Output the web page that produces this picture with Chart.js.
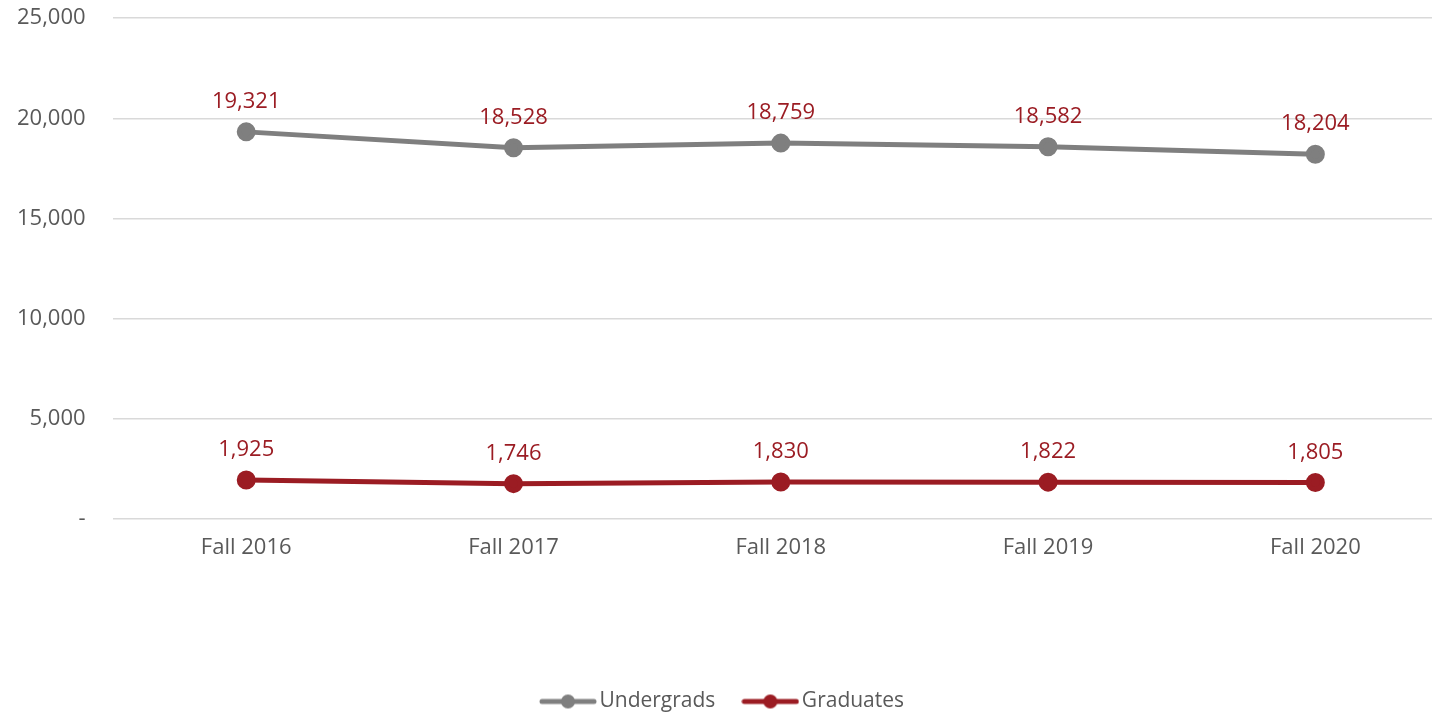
<!DOCTYPE html>
<html>
<head>
<meta charset="utf-8">
<script src="https://cdn.jsdelivr.net/npm/chart.js@4.4.1/dist/chart.umd.min.js"></script>
<style>
    html, body { margin: 0; padding: 0; background: #fff; overflow: hidden; width: 1432px; height: 713px; }
    #wrap { position: absolute; left: 0; top: -22px; width: 1461px; height: 735px; }
</style>
</head>
<body>
<div id="wrap"><canvas id="enrollChart"></canvas></div>
<script>
// Enrollment data
const terms = ['Fall 2016', 'Fall 2017', 'Fall 2018', 'Fall 2019', 'Fall 2020'];
const undergrads = [19321, 18528, 18759, 18582, 18204];
const graduates = [1925, 1746, 1830, 1822, 1805];

const greyColor = '#7f7f7f';
const redColor = '#9b1c23';
const fontFamily = "'Open Sans', 'Noto Sans', sans-serif";

// legend marker: line with a dot in the middle
function legendMarker(color) {
    const c = document.createElement('canvas');
    c.width = 58;
    c.height = 16;
    const g = c.getContext('2d');
    g.strokeStyle = color;
    g.lineWidth = 5;
    g.lineCap = 'round';
    g.beginPath();
    g.moveTo(3, 8);
    g.lineTo(55, 8);
    g.stroke();
    g.fillStyle = color;
    g.beginPath();
    g.arc(29, 8, 7, 0, Math.PI * 2);
    g.fill();
    return c;
}

// value labels above each point
const valueLabels = {
    id: 'valueLabels',
    afterDatasetsDraw(chart) {
        const ctx = chart.ctx;
        ctx.save();
        ctx.font = '22px ' + fontFamily;
        ctx.fillStyle = redColor;
        ctx.textAlign = 'center';
        ctx.textBaseline = 'middle';
        chart.data.datasets.forEach((ds, i) => {
            chart.getDatasetMeta(i).data.forEach((pt, j) => {
                ctx.fillText(ds.data[j].toLocaleString('en-US'), pt.x, pt.y - 30);
            });
        });
        ctx.restore();
    }
};

const ctx = document.getElementById('enrollChart').getContext('2d');
new Chart(ctx, {
    type: 'line',
    data: {
        labels: terms,
        datasets: [
            {
                label: 'Undergrads',
                data: undergrads,
                borderColor: greyColor,
                backgroundColor: greyColor,
                borderWidth: 5,
                pointRadius: 7,
                pointHoverRadius: 7,
                tension: 0
            },
            {
                label: 'Graduates',
                data: graduates,
                borderColor: redColor,
                backgroundColor: redColor,
                borderWidth: 5,
                pointRadius: 7,
                pointHoverRadius: 7,
                tension: 0
            }
        ]
    },
    options: {
        responsive: true,
        maintainAspectRatio: false,
        animation: false,
        layout: { padding: { top: 0, right: 0, left: -10, bottom: -9 } },
        scales: {
            x: {
                offset: true,
                grid: { display: false },
                border: { display: false },
                ticks: { color: '#595959', font: { family: fontFamily, size: 22 }, padding: 8 },
                afterFit(scale) { scale.height += 88; }
            },
            y: {
                min: 0,
                max: 25000,
                grid: { color: '#d9d9d9', lineWidth: 1.5, drawTicks: false },
                border: { display: false },
                ticks: {
                    stepSize: 5000,
                    padding: 27,
                    color: '#595959',
                    font: { family: fontFamily, size: 22 },
                    callback: v => v === 0 ? '-' : v.toLocaleString('en-US')
                }
            }
        },
        plugins: {
            tooltip: { enabled: false },
            legend: {
                position: 'bottom',
                labels: {
                    color: '#595959',
                    font: { family: fontFamily, size: 21 },
                    usePointStyle: true,
                    pointStyleWidth: 42,
                    padding: 34,
                    generateLabels(chart) {
                        return chart.data.datasets.map((ds, i) => ({
                            text: ds.label,
                            fontColor: '#595959',
                            pointStyle: legendMarker(ds.borderColor),
                            datasetIndex: i,
                            hidden: false,
                            lineWidth: 0
                        }));
                    }
                }
            }
        }
    },
    plugins: [valueLabels]
});
</script>
</body>
</html>
